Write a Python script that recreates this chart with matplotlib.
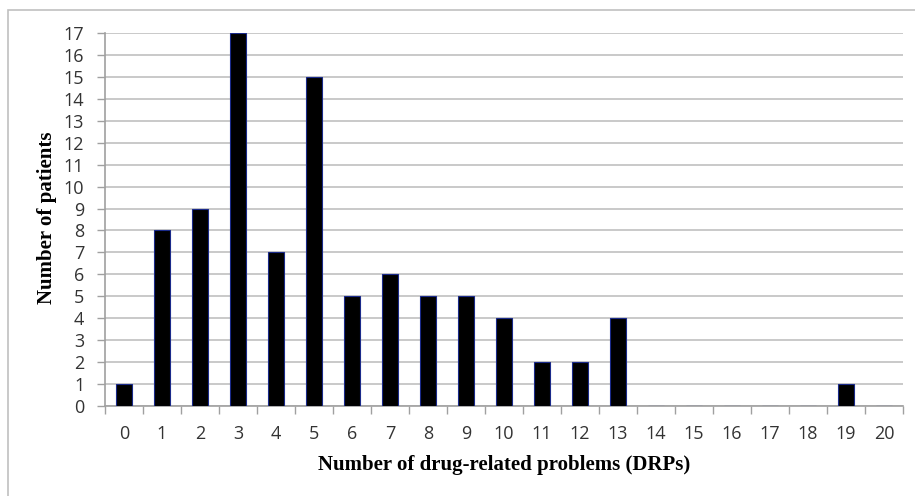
import matplotlib
matplotlib.use("Agg")
import matplotlib.pyplot as plt
from matplotlib.patches import Rectangle

categories = list(range(0, 21))
patients = [1, 8, 9, 17, 7, 15, 5, 6, 5, 5, 4, 2, 2, 4, 0, 0, 0, 0, 0, 1, 0]
y_ticks = list(range(0, 18))

fig = plt.figure(figsize=(9.15, 4.96), dpi=100)
ax = fig.add_axes([105/915, 1-406/496, (903-105)/915, (406-33)/496])

ax.bar(categories, patients, width=0.42, color="black", edgecolor="#1a2a8a", linewidth=0.8, zorder=3)

ax.set_xlim(-0.5, 20.5)
ax.set_ylim(0, 17)
ax.set_yticks(y_ticks)
ax.set_xticks(categories)
ax.set_xticks([c - 0.5 for c in categories] + [20.5], minor=True)
ax.tick_params(axis="x", which="major", length=0, pad=14)
ax.tick_params(axis="x", which="minor", length=6, color="#a0a0a0", width=1)
ax.tick_params(axis="y", length=6, color="#a0a0a0", width=1, pad=9)
for lab in ax.get_xticklabels() + ax.get_yticklabels():
    lab.set_fontfamily("Open Sans")
    lab.set_fontsize(13)
    lab.set_color("#333333")

ax.grid(axis="y", color="#c0c0c0", linewidth=1.2, zorder=0)
for s in ["top", "right"]:
    ax.spines[s].set_visible(False)
for s in ["left", "bottom"]:
    ax.spines[s].set_color("#a0a0a0")
    ax.spines[s].set_linewidth(1.2)

fig.text(504/915, 1-465/496, "Number of drug-related problems (DRPs)", fontfamily="Liberation Serif",
         fontweight="bold", fontsize=15, ha="center", va="center")
fig.text(47/915, 1-218/496, "Number of patients", fontfamily="Liberation Serif",
         fontweight="bold", fontsize=15, ha="center", va="center", rotation=90)

# outer chart frame
fig.patches.append(Rectangle((8/915, -0.1), 1.1, 1 - 10/496 + 0.1, transform=fig.transFigure,
                             fill=False, edgecolor="#c0c0c0", linewidth=1.2, clip_on=False))

fig.savefig("out.png", dpi=100)
